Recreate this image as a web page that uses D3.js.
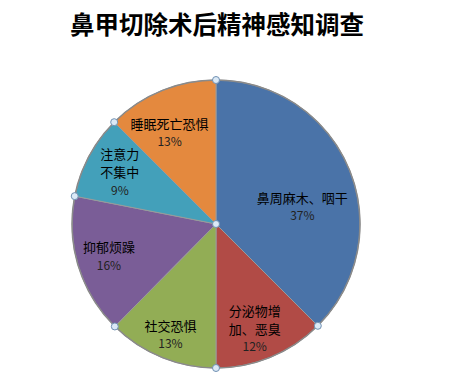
<!DOCTYPE html>
<html><head><meta charset="utf-8">
<script src="https://cdn.jsdelivr.net/npm/d3@7"></script>
<style>body{margin:0;background:#fff}svg{display:block}</style>
</head><body>
<svg id="c" width="454" height="385"></svg>
<script>
const title = "鼻甲切除术后精神感知调查";
const categories = [["鼻周麻木、咽干"], ["分泌物增", "加、恶臭"], ["社交恐惧"], ["抑郁烦躁"], ["注意力", "不集中"], ["睡眠死亡恐惧"]];
const values = [37.5, 12.5, 12.4, 15.7, 9.4, 12.5];
const pctLabels = ["37%", "12%", "13%", "16%", "9%", "13%"];
const colors = ["#4A73A8", "#B14B46", "#92AD55", "#7A5D97", "#43A0BA", "#E4893E"];

const svg = d3.select("#c");
const cx = 216, cy = 224, R = 144;
const font = "'Noto Sans CJK SC', 'Noto Sans', sans-serif";

svg.append("text").attr("x", 217).attr("y", 34).attr("text-anchor", "middle")
  .attr("font-family", font).attr("font-size", 24.5).attr("font-weight", "bold")
  .attr("fill", "#000").text(title);

const pie = d3.pie().sort(null).value(d => d);
const arcs = pie(values);
const arc = d3.arc().innerRadius(0).outerRadius(R);
const g = svg.append("g").attr("transform", `translate(${cx},${cy})`);

g.selectAll("path.s").data(arcs).join("path").attr("class", "s")
  .attr("d", arc).attr("fill", (d, i) => colors[i])
  .attr("stroke", "#9a9a9a").attr("stroke-width", 1);
g.append("circle").attr("r", R).attr("fill", "none").attr("stroke", "#8a8a8a").attr("stroke-width", 1.5);

// label placement (layout only)
const labelR = [88, 112, 120, 112, 109, 102];
const angleShift = [0.20, 0.04, 0, 0, 0, -0.08];
const lg = g.append("g").attr("font-family", font).attr("font-size", 13).attr("text-anchor", "middle");
arcs.forEach((d, i) => {
  const a = (d.startAngle + d.endAngle) / 2 + angleShift[i];
  const x = Math.sin(a) * labelR[i], y = -Math.cos(a) * labelR[i];
  const lines = categories[i].concat([pctLabels[i]]);
  const lh = 18;
  const y0 = y - (lines.length - 1) * lh / 2;
  const t = lg.append("text").attr("x", x).attr("y", y0);
  lines.forEach((s, k) => {
    t.append("tspan").attr("x", x).attr("y", y0 + k * lh).attr("dy", "0.35em")
      .attr("font-size", k === lines.length - 1 ? 12 : 13)
      .attr("fill", k === lines.length - 1 ? "#222" : "#000").text(s);
  });
});

// selection handles
const pts = arcs.map(d => [Math.sin(d.startAngle) * R, -Math.cos(d.startAngle) * R]);
pts.push([0, 0]);
g.selectAll("circle.h").data(pts).join("circle").attr("class", "h")
  .attr("cx", d => d[0]).attr("cy", d => d[1]).attr("r", 3.5)
  .attr("fill", "#dbe9f6").attr("stroke", "#6f90b2").attr("stroke-width", 1);
</script>
</body></html>
